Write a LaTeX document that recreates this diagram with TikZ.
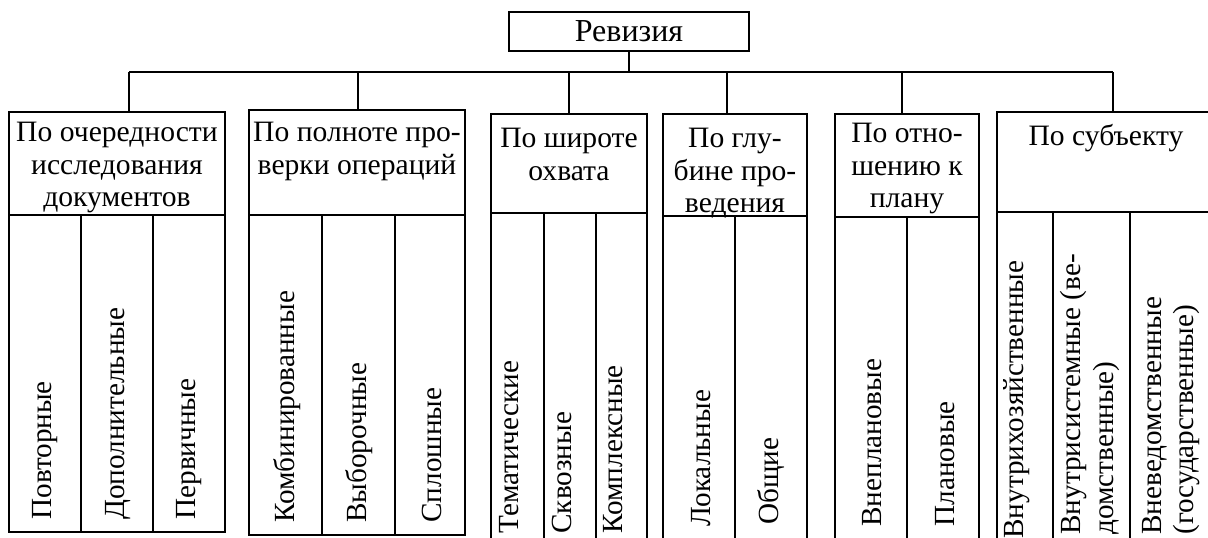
\documentclass[tikz,border=0pt]{standalone}
\usepackage{fontspec}
\setmainfont{Liberation Serif}
\usepackage{tikz}
\usetikzlibrary{positioning,calc}
\tikzset{
  blok/.style    = {draw, line width=0.75pt, inner sep=0pt, outer sep=0pt, anchor=north west},
  koren/.style   = {draw, line width=0.75pt, inner sep=0pt, outer sep=0pt,
                    minimum width=120pt, minimum height=19.5pt, font=\fontsize{16}{18}\selectfont},
  shapka/.style  = {align=center, inner sep=0pt, anchor=north, font=\fontsize{14.8}{16.3}\selectfont},
  vid/.style     = {rotate=90, anchor=west, align=left, inner sep=0pt, font=\fontsize{14.6}{16.3}\selectfont},
  liniya/.style  = {line width=0.6pt},
  razdel/.style  = {line width=0.75pt}
}
\begin{document}
\begin{tikzpicture}[x=0.5pt, y=-0.5pt]
        \useasboundingbox (0,0) rectangle (1208,537);
        \clip (0,0) rectangle (1208,537);

        \node[koren] (rev) at (629,31.5) {Ревизия};

        \node[blok, minimum width=108pt, minimum height=51.5pt] (g1) at (9,112) {};
        \node[blok, minimum width=108pt, minimum height=158.5pt] (g1s) at (g1.south west) {};
        \node[blok, minimum width=108pt, minimum height=52.5pt] (g2) at (249,110) {};
        \node[blok, minimum width=108pt, minimum height=160pt] (g2s) at (g2.south west) {};
        \node[blok, minimum width=78pt, minimum height=49.5pt] (g3) at (491,114) {};
        \node[blok, minimum width=78pt, minimum height=170pt] (g3s) at (g3.south west) {};
        \node[blok, minimum width=72pt, minimum height=51pt] (g4) at (663,114) {};
        \node[blok, minimum width=72pt, minimum height=170pt] (g4s) at (g4.south west) {};
        \node[blok, minimum width=72pt, minimum height=51.5pt] (g5) at (835,114) {};
        \node[blok, minimum width=72pt, minimum height=170pt] (g5s) at (g5.south west) {};
        \node[blok, minimum width=109pt, minimum height=50pt] (g6) at (997,112) {};
        \node[blok, minimum width=109pt, minimum height=170pt] (g6s) at (g6.south west) {};

        \node[shapka] (t1) at (117,122) {По очередности\\исследования\\документов};
        \node[shapka] (t2) at (357,122) {По полноте про-\\верки операций};
        \node[shapka] (t3) at (569,128) {По широте\\охвата};
        \node[shapka] (t4) at (735,128) {По глу-\\бине про-\\ведения};
        \node[shapka] (t5) at (907,123) {По отно-\\шению к\\плану};
        \node[shapka] (t6) at (1106,124) {По субъекту};

        \coordinate (s1) at (129,72);
        \coordinate (s2) at (358,72);
        \coordinate (s3) at (569,72);
        \coordinate (s4) at (727,72);
        \coordinate (s5) at (902,72);
        \coordinate (s6) at (1113,72);
        \draw[liniya] (rev.south) -- (rev.south |- s1);
        \draw[liniya] (s1) -- (s6);
        \draw[liniya] (s1) -- (s1 |- g1.north);
        \draw[liniya] (s2) -- (s2 |- g2.north);
        \draw[liniya] (s3) -- (s3 |- g3.north);
        \draw[liniya] (s4) -- (s4 |- g4.north);
        \draw[liniya] (s5) -- (s5 |- g5.north);
        \draw[liniya] (s6) -- (s6 |- g6.north);

        \draw[razdel] (81,0 |- g1s.north) -- (81,0 |- g1s.south);
        \draw[razdel] (153,0 |- g1s.north) -- (153,0 |- g1s.south);
        \draw[razdel] (322,0 |- g2s.north) -- (322,0 |- g2s.south);
        \draw[razdel] (395,0 |- g2s.north) -- (395,0 |- g2s.south);
        \draw[razdel] (544,0 |- g3s.north) -- (544,0 |- g3s.south);
        \draw[razdel] (596,0 |- g3s.north) -- (596,0 |- g3s.south);
        \draw[razdel] (735,0 |- g4s.north) -- (735,0 |- g4s.south);
        \draw[razdel] (907,0 |- g5s.north) -- (907,0 |- g5s.south);
        \draw[razdel] (1053,0 |- g6s.north) -- (1053,0 |- g6s.south);
        \draw[razdel] (1130,0 |- g6s.north) -- (1130,0 |- g6s.south);

        \node[vid] (v11) at (45,520) {Повторные};
        \node[vid] (v12) at (118,520) {Дополнительные};
        \node[vid] (v13) at (189,520) {Первичные};
        \node[vid] (v21) at (287,523) {Комбинированные};
        \node[vid] (v22) at (359,523) {Выборочные};
        \node[vid] (v23) at (432,523) {Сплошные};
        \node[vid] (v31) at (509,534) {Тематические};
        \node[vid] (v32) at (562,534) {Сквозные};
        \node[vid] (v33) at (613,534) {Комплексные};
        \node[vid] (v41) at (701,527) {Локальные};
        \node[vid] (v42) at (771,525) {Общие};
        \node[vid] (v51) at (872,527) {Внеплановые};
        \node[vid] (v52) at (945,527) {Плановые};
        \node[vid] (v61) at (1017,539) {Внутрихозяйственные};
        \node[vid] (v62) at (1090,535) {Внутрисистемные (ве-\\домственные)};
        \node[vid] (v63) at (1171,535) {Вневедомственные\\(государственные)};
    \end{tikzpicture}
\end{document}
